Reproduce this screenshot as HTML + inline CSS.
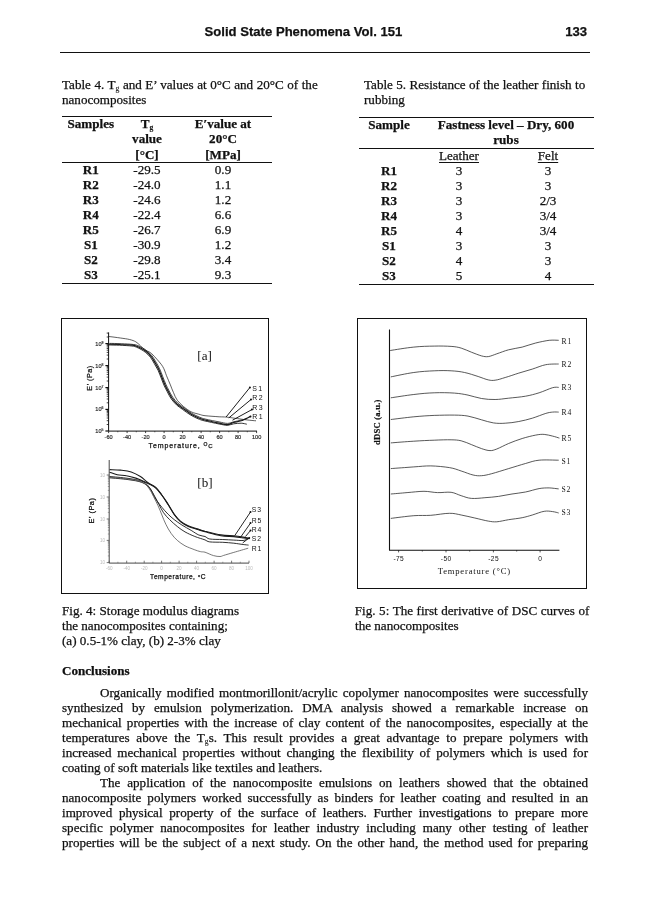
<!DOCTYPE html>
<html><head><meta charset="utf-8">
<style>
html,body{margin:0;padding:0;background:#fff;}
body{width:650px;height:920px;position:relative;overflow:hidden;filter:grayscale(1);-webkit-text-stroke:0.25px #111;font-family:"Liberation Serif",serif;font-size:13.1px;color:#111;}
.l{position:absolute;white-space:nowrap;line-height:15px;height:15px;}
.j{position:absolute;left:62px;width:526px;line-height:15px;height:15px;text-align:justify;text-align-last:justify;white-space:normal;}
.c{position:absolute;white-space:nowrap;line-height:15px;height:15px;text-align:center;}
.b{font-weight:bold;}
.hr{position:absolute;background:#111;height:1px;}
.hd{font-family:"Liberation Sans",sans-serif;font-weight:bold;font-size:13.1px;}
sub{font-size:7.6px;vertical-align:baseline;position:relative;top:2.2px;line-height:0;-webkit-text-stroke:0.1px #111;}
.box{position:absolute;border:1px solid #111;box-sizing:border-box;}
u{text-decoration-thickness:1px;text-underline-offset:1.5px;}
</style></head><body>
<!-- header -->
<div class="l hd" style="left:204.6px;top:24px;">Solid State Phenomena Vol. 151</div>
<div class="l hd" style="right:63px;top:24px;">133</div>
<div class="hr" style="left:60px;top:52px;width:530px;"></div>

<!-- Table 4 caption -->
<div class="l" style="left:62px;top:77px;word-spacing:0.26px;">Table 4. T<sub>g</sub> and E’ values at 0°C and 20°C of the</div>
<div class="l" style="left:62px;top:92px;">nanocomposites</div>
<!-- Table 5 caption -->
<div class="l" style="left:364px;top:77px;word-spacing:0.15px;">Table 5. Resistance of the leather finish to</div>
<div class="l" style="left:364px;top:92px;">rubbing</div>

<!-- Table 4 -->
<div class="hr" style="left:62px;top:116px;width:210px;"></div>
<div class="c b" style="left:62px;width:57.6px;top:116.1px;">Samples</div>
<div class="c b" style="left:119px;width:56px;top:116.1px;">T<sub>g</sub></div>
<div class="c b" style="left:119px;width:56px;top:131.2px;">value</div>
<div class="c b" style="left:119px;width:56px;top:146.5px;">[°C]</div>
<div class="c b" style="left:175px;width:96px;top:116.1px;">E′value at</div>
<div class="c b" style="left:175px;width:96px;top:131.2px;">20°C</div>
<div class="c b" style="left:175px;width:96px;top:146.5px;">[MPa]</div>
<div class="hr" style="left:62px;top:162px;width:210px;"></div>
<div class="c b" style="left:62px;width:57.6px;top:162.1px;">R1</div><div class="c" style="left:119px;width:56px;top:162.1px;">-29.5</div><div class="c" style="left:175px;width:96px;top:162.1px;">0.9</div>
<div class="c b" style="left:62px;width:57.6px;top:177.1px;">R2</div><div class="c" style="left:119px;width:56px;top:177.1px;">-24.0</div><div class="c" style="left:175px;width:96px;top:177.1px;">1.1</div>
<div class="c b" style="left:62px;width:57.6px;top:192.1px;">R3</div><div class="c" style="left:119px;width:56px;top:192.1px;">-24.6</div><div class="c" style="left:175px;width:96px;top:192.1px;">1.2</div>
<div class="c b" style="left:62px;width:57.6px;top:207.1px;">R4</div><div class="c" style="left:119px;width:56px;top:207.1px;">-22.4</div><div class="c" style="left:175px;width:96px;top:207.1px;">6.6</div>
<div class="c b" style="left:62px;width:57.6px;top:222.1px;">R5</div><div class="c" style="left:119px;width:56px;top:222.1px;">-26.7</div><div class="c" style="left:175px;width:96px;top:222.1px;">6.9</div>
<div class="c b" style="left:62px;width:57.6px;top:237.1px;">S1</div><div class="c" style="left:119px;width:56px;top:237.1px;">-30.9</div><div class="c" style="left:175px;width:96px;top:237.1px;">1.2</div>
<div class="c b" style="left:62px;width:57.6px;top:252.1px;">S2</div><div class="c" style="left:119px;width:56px;top:252.1px;">-29.8</div><div class="c" style="left:175px;width:96px;top:252.1px;">3.4</div>
<div class="c b" style="left:62px;width:57.6px;top:267.1px;">S3</div><div class="c" style="left:119px;width:56px;top:267.1px;">-25.1</div><div class="c" style="left:175px;width:96px;top:267.1px;">9.3</div>
<div class="hr" style="left:62px;top:283px;width:210px;"></div>

<!-- Table 5 -->
<div class="hr" style="left:359px;top:117px;width:235px;"></div>
<div class="c b" style="left:359px;width:60px;top:116.6px;">Sample</div>
<div class="c b" style="left:418px;width:176px;top:116.6px;">Fastness level – Dry, 600</div>
<div class="c b" style="left:418px;width:176px;top:131.6px;">rubs</div>
<div class="hr" style="left:359px;top:148px;width:235px;"></div>
<div class="c" style="left:418px;width:82px;top:148.1px;"><u>Leather</u></div>
<div class="c" style="left:500px;width:96px;top:148.1px;"><u>Felt</u></div>
<div class="c b" style="left:359px;width:60px;top:163.1px;">R1</div><div class="c" style="left:418px;width:82px;top:163.1px;">3</div><div class="c" style="left:500px;width:96px;top:163.1px;">3</div>
<div class="c b" style="left:359px;width:60px;top:178.1px;">R2</div><div class="c" style="left:418px;width:82px;top:178.1px;">3</div><div class="c" style="left:500px;width:96px;top:178.1px;">3</div>
<div class="c b" style="left:359px;width:60px;top:193.1px;">R3</div><div class="c" style="left:418px;width:82px;top:193.1px;">3</div><div class="c" style="left:500px;width:96px;top:193.1px;">2/3</div>
<div class="c b" style="left:359px;width:60px;top:208.1px;">R4</div><div class="c" style="left:418px;width:82px;top:208.1px;">3</div><div class="c" style="left:500px;width:96px;top:208.1px;">3/4</div>
<div class="c b" style="left:359px;width:60px;top:223.1px;">R5</div><div class="c" style="left:418px;width:82px;top:223.1px;">4</div><div class="c" style="left:500px;width:96px;top:223.1px;">3/4</div>
<div class="c b" style="left:359px;width:60px;top:238.1px;">S1</div><div class="c" style="left:418px;width:82px;top:238.1px;">3</div><div class="c" style="left:500px;width:96px;top:238.1px;">3</div>
<div class="c b" style="left:359px;width:60px;top:253.1px;">S2</div><div class="c" style="left:418px;width:82px;top:253.1px;">4</div><div class="c" style="left:500px;width:96px;top:253.1px;">3</div>
<div class="c b" style="left:359px;width:60px;top:268.1px;">S3</div><div class="c" style="left:418px;width:82px;top:268.1px;">5</div><div class="c" style="left:500px;width:96px;top:268.1px;">4</div>
<div class="hr" style="left:359px;top:284px;width:235px;"></div>

<!-- Figures -->
<div class="box" style="left:61px;top:318px;width:208px;height:276px;"></div>
<div class="box" style="left:357px;top:318px;width:230px;height:271px;"></div>

<!--FIGSVG-->
<svg width="650" height="920" viewBox="0 0 650 920" style="position:absolute;left:0;top:0;" fill="none" stroke="#111" stroke-linecap="butt" stroke-linejoin="round">
<g stroke="#111" stroke-width="0.9">
<path d="M389.5,329.4 V550.2 H559.4" stroke-width="1.1"/>
<path d="M398.6,550.2 v2.2" stroke-width="0.7"/>
<path d="M446,550.2 v2.2" stroke-width="0.7"/>
<path d="M493.4,550.2 v2.2" stroke-width="0.7"/>
<path d="M540.1,550.2 v2.2" stroke-width="0.7"/>
<path d="M422.3,550.2 v1.4" stroke-width="0.6"/>
<path d="M469.7,550.2 v1.4" stroke-width="0.6"/>
<path d="M516.7,550.2 v1.4" stroke-width="0.6"/>
</g>
<g stroke="#222" stroke-width="0.75">
<path d="M390.2,350.5 C394.1,349.9 406.5,347.8 413.8,347.1 C421.2,346.3 427.9,346.2 434.2,346.1 C440.4,345.9 446.6,346.1 451.1,346.4 C455.6,346.7 457.8,347.1 461.2,348.1 C464.6,349.1 468.0,350.9 471.4,352.2 C474.8,353.5 478.7,355.1 481.5,355.9 C484.4,356.6 485.8,356.9 488.3,356.6 C490.8,356.2 493.4,355.0 496.8,353.8 C500.2,352.7 504.4,350.9 508.6,349.8 C512.8,348.7 517.6,348.2 522.2,347.1 C526.7,345.9 531.2,344.1 535.7,343.0 C540.2,341.9 545.4,340.8 549.2,340.3 C553.1,339.9 557.1,340.3 558.7,340.3"/>
<path d="M390.8,376.9 C394.7,376.1 406.6,373.5 413.8,372.5 C421.1,371.4 427.9,371.1 434.2,370.8 C440.4,370.5 446.0,370.5 451.1,370.8 C456.2,371.1 460.1,371.5 464.6,372.5 C469.1,373.4 474.2,375.3 478.2,376.5 C482.1,377.8 485.5,379.3 488.3,379.9 C491.1,380.5 492.3,380.6 495.1,380.2 C497.9,379.9 501.3,378.7 505.2,377.5 C509.2,376.4 514.3,374.5 518.8,373.1 C523.3,371.7 527.8,370.5 532.3,369.1 C536.8,367.7 541.4,365.5 545.8,364.7 C550.2,363.8 556.6,364.1 558.7,364.0"/>
<path d="M390.8,397.8 C394.7,397.3 406.6,395.3 413.8,394.5 C421.1,393.6 427.4,393.0 434.2,392.8 C440.9,392.5 448.8,392.7 454.5,393.1 C460.1,393.5 463.5,394.2 468.0,395.1 C472.5,396.0 477.0,397.8 481.5,398.5 C486.1,399.3 490.6,399.6 495.1,399.5 C499.6,399.5 503.5,398.7 508.6,398.2 C513.7,397.6 520.5,397.1 525.5,396.2 C530.6,395.3 534.6,394.2 539.1,392.8 C543.6,391.4 549.3,388.6 552.6,387.7 C555.9,386.8 557.7,387.4 558.7,387.4"/>
<path d="M390.8,419.5 C394.7,419.1 406.6,417.5 413.8,416.8 C421.1,416.1 427.4,415.7 434.2,415.4 C440.9,415.2 448.8,415.0 454.5,415.1 C460.1,415.2 463.5,415.3 468.0,416.1 C472.5,416.9 477.3,418.7 481.5,419.8 C485.8,421.0 489.4,422.3 493.4,422.9 C497.3,423.5 501.0,423.5 505.2,423.2 C509.5,423.0 514.3,422.4 518.8,421.5 C523.3,420.7 527.8,419.5 532.3,418.2 C536.8,416.8 542.5,414.4 545.8,413.4 C549.2,412.4 550.5,412.3 552.6,412.1 C554.8,411.8 557.7,412.1 558.7,412.1"/>
<path d="M390.8,442.9 C394.7,442.6 406.6,441.6 413.8,441.2 C421.1,440.7 427.9,440.4 434.2,440.2 C440.4,439.9 446.6,439.7 451.1,439.8 C455.6,439.9 457.8,440.0 461.2,440.8 C464.6,441.6 468.0,443.3 471.4,444.6 C474.8,445.9 478.4,447.6 481.5,448.6 C484.6,449.6 487.5,450.6 490.0,450.6 C492.5,450.7 493.7,450.1 496.8,449.0 C499.9,447.8 504.4,445.3 508.6,443.5 C512.8,441.8 517.6,439.9 522.2,438.5 C526.7,437.1 532.0,435.8 535.7,435.1 C539.4,434.4 541.3,434.2 544.2,434.4 C547.0,434.6 550.1,435.5 552.6,436.1 C555.2,436.7 558.3,437.8 559.4,438.1"/>
<path d="M390.8,468.6 C394.7,468.3 407.2,467.4 413.8,466.9 C420.5,466.5 424.8,465.8 430.8,465.9 C436.7,466.0 444.3,466.8 449.4,467.6 C454.5,468.4 457.3,469.7 461.2,471.0 C465.2,472.2 469.7,474.3 473.1,475.0 C476.5,475.8 478.4,475.9 481.5,475.7 C484.6,475.5 487.2,474.9 491.7,473.7 C496.2,472.5 503.0,470.3 508.6,468.6 C514.3,466.9 520.5,464.9 525.5,463.5 C530.6,462.1 533.6,460.7 539.1,460.2 C544.6,459.6 555.4,460.2 558.7,460.2"/>
<path d="M390.8,494.0 C393.5,493.8 401.5,493.1 407.1,492.6 C412.6,492.2 418.9,491.3 424.0,491.3 C429.1,491.3 433.0,492.5 437.5,492.6 C442.1,492.8 447.1,491.8 451.1,492.3 C455.0,492.8 457.8,494.7 461.2,495.7 C464.6,496.7 467.4,498.1 471.4,498.4 C475.3,498.7 480.4,498.1 484.9,497.7 C489.4,497.4 494.0,497.0 498.5,496.4 C503.0,495.7 507.5,494.7 512.0,494.0 C516.5,493.3 521.0,492.9 525.5,492.0 C530.1,491.1 535.1,489.3 539.1,488.6 C543.0,487.9 546.0,487.9 549.2,487.9 C552.5,488.0 557.1,488.8 558.7,488.9"/>
<path d="M390.8,518.4 C394.7,517.9 407.2,516.2 413.8,515.7 C420.5,515.2 424.8,515.7 430.8,515.3 C436.7,514.9 444.3,513.3 449.4,513.3 C454.5,513.2 457.0,514.2 461.2,515.0 C465.5,515.8 470.3,517.0 474.8,518.0 C479.3,519.0 484.6,520.5 488.3,521.1 C492.0,521.7 493.4,522.0 496.8,521.8 C500.2,521.5 504.4,520.4 508.6,519.7 C512.8,519.0 518.2,518.5 522.2,517.7 C526.1,516.9 528.6,516.1 532.3,515.0 C536.0,513.9 540.8,511.8 544.2,511.3 C547.5,510.7 550.2,511.3 552.6,511.6 C555.0,511.9 557.7,512.7 558.7,513.0"/>
</g>
<g stroke="none" fill="#111" font-family="Liberation Serif, serif" font-size="7.6px" letter-spacing="0.9">
<text x="561.5" y="343.9">R1</text>
<text x="561.5" y="366.9">R2</text>
<text x="561.5" y="390.3">R3</text>
<text x="561.5" y="415.0">R4</text>
<text x="561.5" y="441.0">R5</text>
<text x="561.5" y="463.7">S1</text>
<text x="561.5" y="491.8">S2</text>
<text x="561.5" y="515.2">S3</text>
</g>
<g stroke="none" fill="#111" font-family="Liberation Sans, sans-serif" font-size="6.6px" text-anchor="middle" letter-spacing="0.4">
<text x="398.8" y="560.9">-75</text>
<text x="446.2" y="560.9">-50</text>
<text x="493.6" y="560.9">-25</text>
<text x="540.3" y="560.9">0</text>
</g>
<text x="474.3" y="573.6" stroke="none" fill="#111" font-family="Liberation Serif, serif" font-size="8.6px" text-anchor="middle" letter-spacing="0.8">Temperature (°C)</text>
<text transform="translate(380.1,422.2) rotate(-90)" stroke="#111" stroke-width="0.2" fill="#111" font-family="Liberation Serif, serif" font-weight="bold" font-size="8.6px" text-anchor="middle" letter-spacing="0.22">dDSC (a.u.)</text>
<g stroke="#111" stroke-width="0.9">
<path d="M108.6,332.4 V431.1 H257" stroke-width="1"/>
<path d="M108.6,343.6 h-3.2" stroke-width="1.2"/>
<path d="M108.6,365.6 h-3.2" stroke-width="1.2"/>
<path d="M108.6,387.6 h-3.2" stroke-width="1.2"/>
<path d="M108.6,409.4 h-3.2" stroke-width="1.2"/>
<path d="M108.6,431 h-3.2" stroke-width="1.2"/>
<path d="M108.6,359.0 h-1.9" stroke-width="0.8"/>
<path d="M108.6,355.1 h-1.9" stroke-width="0.8"/>
<path d="M108.6,352.4 h-1.9" stroke-width="0.8"/>
<path d="M108.6,350.2 h-1.9" stroke-width="0.8"/>
<path d="M108.6,348.5 h-1.9" stroke-width="0.8"/>
<path d="M108.6,347.0 h-1.9" stroke-width="0.8"/>
<path d="M108.6,345.7 h-1.9" stroke-width="0.8"/>
<path d="M108.6,344.6 h-1.9" stroke-width="0.8"/>
<path d="M108.6,381.0 h-1.9" stroke-width="0.8"/>
<path d="M108.6,377.1 h-1.9" stroke-width="0.8"/>
<path d="M108.6,374.4 h-1.9" stroke-width="0.8"/>
<path d="M108.6,372.2 h-1.9" stroke-width="0.8"/>
<path d="M108.6,370.5 h-1.9" stroke-width="0.8"/>
<path d="M108.6,369.0 h-1.9" stroke-width="0.8"/>
<path d="M108.6,367.7 h-1.9" stroke-width="0.8"/>
<path d="M108.6,366.6 h-1.9" stroke-width="0.8"/>
<path d="M108.6,402.8 h-1.9" stroke-width="0.8"/>
<path d="M108.6,399.0 h-1.9" stroke-width="0.8"/>
<path d="M108.6,396.3 h-1.9" stroke-width="0.8"/>
<path d="M108.6,394.2 h-1.9" stroke-width="0.8"/>
<path d="M108.6,392.4 h-1.9" stroke-width="0.8"/>
<path d="M108.6,391.0 h-1.9" stroke-width="0.8"/>
<path d="M108.6,389.7 h-1.9" stroke-width="0.8"/>
<path d="M108.6,388.6 h-1.9" stroke-width="0.8"/>
<path d="M108.6,424.5 h-1.9" stroke-width="0.8"/>
<path d="M108.6,420.7 h-1.9" stroke-width="0.8"/>
<path d="M108.6,418.0 h-1.9" stroke-width="0.8"/>
<path d="M108.6,415.9 h-1.9" stroke-width="0.8"/>
<path d="M108.6,414.2 h-1.9" stroke-width="0.8"/>
<path d="M108.6,412.7 h-1.9" stroke-width="0.8"/>
<path d="M108.6,411.5 h-1.9" stroke-width="0.8"/>
<path d="M108.6,410.4 h-1.9" stroke-width="0.8"/>
<path d="M108.6,337.0 h-1.9" stroke-width="0.8"/>
<path d="M108.6,333.1 h-1.9" stroke-width="0.8"/>
<path d="M108.6,431.1 v2.0" stroke-width="0.8"/>
<path d="M127.1,431.1 v2.0" stroke-width="0.8"/>
<path d="M145.6,431.1 v2.0" stroke-width="0.8"/>
<path d="M164.1,431.1 v2.0" stroke-width="0.8"/>
<path d="M182.6,431.1 v2.0" stroke-width="0.8"/>
<path d="M201.1,431.1 v2.0" stroke-width="0.8"/>
<path d="M219.6,431.1 v2.0" stroke-width="0.8"/>
<path d="M238.1,431.1 v2.0" stroke-width="0.8"/>
<path d="M256.6,431.1 v2.0" stroke-width="0.8"/>
<path d="M117.8,431.1 v1.2" stroke-width="0.6"/>
<path d="M136.3,431.1 v1.2" stroke-width="0.6"/>
<path d="M154.8,431.1 v1.2" stroke-width="0.6"/>
<path d="M173.3,431.1 v1.2" stroke-width="0.6"/>
<path d="M191.8,431.1 v1.2" stroke-width="0.6"/>
<path d="M210.3,431.1 v1.2" stroke-width="0.6"/>
<path d="M228.8,431.1 v1.2" stroke-width="0.6"/>
<path d="M247.3,431.1 v1.2" stroke-width="0.6"/>
</g>
<g stroke="#1a1a1a">
<path d="M108.8,336.5 C110.8,336.7 116.9,337.5 120.4,338.0 C123.8,338.5 127.1,338.9 129.6,339.5 C132.2,340.2 134.0,340.8 135.8,341.8 C137.6,342.9 138.8,344.3 140.4,345.7 C141.9,347.1 143.3,349.2 145.0,350.3 C146.7,351.5 148.6,351.3 150.4,352.6 C152.2,353.9 153.7,355.7 155.8,358.0 C157.8,360.3 160.9,363.5 162.7,366.5 C164.5,369.4 165.3,372.6 166.5,375.7 C167.8,378.8 169.2,382.1 170.4,384.9 C171.5,387.7 172.3,390.1 173.5,392.6 C174.6,395.2 175.6,398.0 177.3,400.3 C179.0,402.6 181.2,404.5 183.5,406.5 C185.8,408.4 188.6,410.6 191.2,411.8 C193.7,413.1 196.5,413.5 198.8,414.2 C201.2,414.8 201.6,415.3 205.0,415.7 C208.4,416.1 215.5,416.5 219.1,416.8 C222.7,417.0 223.4,416.8 226.5,417.1 C229.5,417.4 234.2,418.2 237.5,418.6 C240.9,419.1 243.7,419.5 246.8,419.9 C249.8,420.3 254.5,420.7 256.0,420.8" stroke-width="0.7"/>
<path d="M108.8,344.2 C110.8,344.2 116.4,344.3 120.4,344.5 C124.4,344.6 129.9,344.9 132.7,345.2 C135.5,345.6 135.8,345.9 137.3,346.5 C138.8,347.1 140.4,347.9 141.9,348.8 C143.5,349.7 145.0,350.6 146.5,351.8 C148.1,353.1 149.7,354.7 151.2,356.5 C152.6,358.3 153.7,360.4 155.0,362.6 C156.3,364.8 157.7,367.1 158.8,369.5 C160.0,372.0 160.9,374.7 161.9,377.2 C162.9,379.8 164.0,382.6 165.0,384.9 C166.0,387.2 166.9,388.9 168.1,391.1 C169.2,393.3 170.4,395.8 171.9,398.0 C173.5,400.2 175.4,402.4 177.3,404.2 C179.2,405.9 181.2,407.1 183.5,408.8 C185.8,410.4 188.6,412.6 191.2,414.2 C193.7,415.7 196.5,417.0 198.8,418.0 C201.2,419.0 201.6,419.1 205.0,420.0 C208.4,420.9 215.3,422.4 219.1,423.2 C222.8,424.0 224.9,424.9 227.4,424.7 C229.8,424.6 231.5,423.0 233.8,422.3 C236.2,421.7 238.5,421.8 241.2,420.8 C244.0,419.8 248.9,417.1 250.5,416.4" stroke-width="1.2"/>
<path d="M108.1,344.9 C110.0,345.0 115.6,345.1 119.6,345.2 C123.6,345.4 129.1,345.7 131.9,346.0 C134.7,346.3 135.0,346.6 136.5,347.2 C138.1,347.8 139.6,348.6 141.2,349.5 C142.7,350.4 144.2,351.3 145.8,352.6 C147.3,353.9 149.0,355.4 150.4,357.2 C151.8,359.0 152.9,361.2 154.2,363.4 C155.5,365.6 156.9,367.9 158.1,370.3 C159.2,372.7 160.1,375.4 161.2,378.0 C162.2,380.6 163.2,383.4 164.2,385.7 C165.3,388.0 166.2,389.7 167.3,391.8 C168.5,394.0 169.6,396.6 171.2,398.8 C172.7,400.9 174.6,403.1 176.5,404.9 C178.5,406.7 180.4,407.9 182.7,409.5 C185.0,411.2 187.8,413.4 190.4,414.9 C192.9,416.5 195.8,417.8 198.1,418.8 C200.4,419.7 200.7,419.9 204.2,420.8 C207.7,421.6 215.2,423.2 219.1,424.0 C222.9,424.7 224.9,425.3 227.4,425.3 C229.8,425.2 231.5,424.1 233.8,423.8 C236.2,423.4 239.1,423.2 241.2,423.2 C243.4,423.3 245.8,424.0 246.8,424.2" stroke-width="0.9"/>
<path d="M109.6,343.4 C111.5,343.4 117.2,343.5 121.2,343.7 C125.1,343.9 130.6,344.1 133.5,344.5 C136.3,344.8 136.5,345.1 138.1,345.7 C139.6,346.3 141.2,347.1 142.7,348.0 C144.2,348.9 145.8,349.8 147.3,351.1 C148.8,352.4 150.5,353.9 151.9,355.7 C153.3,357.5 154.5,359.7 155.8,361.8 C157.1,364.0 158.5,366.3 159.6,368.8 C160.8,371.2 161.7,373.9 162.7,376.5 C163.7,379.0 164.7,381.8 165.8,384.2 C166.8,386.5 167.7,388.1 168.8,390.3 C170.0,392.5 171.2,395.1 172.7,397.2 C174.2,399.4 176.2,401.6 178.1,403.4 C180.0,405.2 181.9,406.3 184.2,408.0 C186.5,409.7 189.4,411.8 191.9,413.4 C194.5,414.9 197.3,416.3 199.6,417.2 C201.9,418.2 202.5,418.4 205.8,419.2 C209.0,420.0 215.5,421.2 219.1,421.9 C222.7,422.6 224.9,423.4 227.4,423.4 C229.8,423.4 231.5,422.3 233.8,421.8 C236.2,421.2 239.1,420.6 241.2,420.1 C243.4,419.6 245.8,418.9 246.8,418.6" stroke-width="0.8"/>
</g>
<g stroke="#111" stroke-width="0.95">
<path d="M249.9,387.5 L226.1,417"/>
<circle cx="249.9" cy="387.5" r="1.0" fill="#111" stroke="none"/>
<path d="M251,399.5 L228.8,417.9"/>
<circle cx="251" cy="399.5" r="1.0" fill="#111" stroke="none"/>
<path d="M251.9,409.6 L232.5,420.2"/>
<circle cx="251.9" cy="409.6" r="1.0" fill="#111" stroke="none"/>
<circle cx="250.5" cy="416.6" r="1.0" fill="#111" stroke="none"/>
</g>
<g stroke="none" fill="#111" font-family="Liberation Sans, sans-serif" font-size="7px" letter-spacing="1.3" stroke="#111" stroke-width="0.2">
<text x="252.3" y="391.2">S1</text>
<text x="252.3" y="400.1">R2</text>
<text x="252.3" y="409.8">R3</text>
<text x="252.3" y="419.0">R1</text>
</g>
<g stroke="#222" stroke-width="0.15" fill="#222" font-family="Liberation Sans, sans-serif" font-size="5.6px" text-anchor="middle">
<text x="108.6" y="439">-60</text>
<text x="127.1" y="439">-40</text>
<text x="145.6" y="439">-20</text>
<text x="164.1" y="439">0</text>
<text x="182.6" y="439">20</text>
<text x="201.1" y="439">40</text>
<text x="219.6" y="439">60</text>
<text x="238.1" y="439">80</text>
<text x="256.6" y="439">100</text>
</g>
<g stroke="#222" stroke-width="0.15" fill="#222" font-family="Liberation Sans, sans-serif" font-size="5.6px" text-anchor="end">
<text x="103.5" y="345.6">10<tspan font-size="3.5px" dy="-2">9</tspan></text>
<text x="103.5" y="367.6">10<tspan font-size="3.5px" dy="-2">8</tspan></text>
<text x="103.5" y="389.6">10<tspan font-size="3.5px" dy="-2">7</tspan></text>
<text x="103.5" y="411.4">10<tspan font-size="3.5px" dy="-2">6</tspan></text>
<text x="103.5" y="433.0">10<tspan font-size="3.5px" dy="-2">5</tspan></text>
</g>
<text x="181" y="447.8" stroke="#111" stroke-width="0.25" fill="#111" font-family="Liberation Sans, sans-serif" font-size="7px" text-anchor="middle" letter-spacing="0.9">Temperature, <tspan font-size="5px" dy="-2">O</tspan><tspan font-size="6px" dy="2">C</tspan></text>
<text transform="translate(92,378) rotate(-90)" stroke="#111" stroke-width="0.25" fill="#111" font-family="Liberation Sans, sans-serif" font-size="7.2px" text-anchor="middle" letter-spacing="0.5">E' (Pa)</text>
<text x="204.6" y="359.5" stroke="none" fill="#111" font-family="Liberation Serif, serif" font-size="13.1px" text-anchor="middle">[a]</text>
<g stroke="#555" stroke-width="0.8">
<path d="M109.2,460 V563.1 H249" stroke="#333" stroke-width="0.9"/>
<path d="M109.2,475 h-2.5"/>
<path d="M109.2,497 h-2.5"/>
<path d="M109.2,519 h-2.5"/>
<path d="M109.2,540.4 h-2.5"/>
<path d="M109.2,562.6 h-2.5"/>
<path d="M109.2,490.4 h-1.4" stroke-width="0.5"/>
<path d="M109.2,486.5 h-1.4" stroke-width="0.5"/>
<path d="M109.2,483.8 h-1.4" stroke-width="0.5"/>
<path d="M109.2,481.6 h-1.4" stroke-width="0.5"/>
<path d="M109.2,479.9 h-1.4" stroke-width="0.5"/>
<path d="M109.2,478.4 h-1.4" stroke-width="0.5"/>
<path d="M109.2,477.1 h-1.4" stroke-width="0.5"/>
<path d="M109.2,476.0 h-1.4" stroke-width="0.5"/>
<path d="M109.2,512.4 h-1.4" stroke-width="0.5"/>
<path d="M109.2,508.5 h-1.4" stroke-width="0.5"/>
<path d="M109.2,505.8 h-1.4" stroke-width="0.5"/>
<path d="M109.2,503.6 h-1.4" stroke-width="0.5"/>
<path d="M109.2,501.9 h-1.4" stroke-width="0.5"/>
<path d="M109.2,500.4 h-1.4" stroke-width="0.5"/>
<path d="M109.2,499.1 h-1.4" stroke-width="0.5"/>
<path d="M109.2,498.0 h-1.4" stroke-width="0.5"/>
<path d="M109.2,534.0 h-1.4" stroke-width="0.5"/>
<path d="M109.2,530.2 h-1.4" stroke-width="0.5"/>
<path d="M109.2,527.5 h-1.4" stroke-width="0.5"/>
<path d="M109.2,525.4 h-1.4" stroke-width="0.5"/>
<path d="M109.2,523.7 h-1.4" stroke-width="0.5"/>
<path d="M109.2,522.3 h-1.4" stroke-width="0.5"/>
<path d="M109.2,521.1 h-1.4" stroke-width="0.5"/>
<path d="M109.2,520.0 h-1.4" stroke-width="0.5"/>
<path d="M109.2,555.9 h-1.4" stroke-width="0.5"/>
<path d="M109.2,552.0 h-1.4" stroke-width="0.5"/>
<path d="M109.2,549.2 h-1.4" stroke-width="0.5"/>
<path d="M109.2,547.1 h-1.4" stroke-width="0.5"/>
<path d="M109.2,545.3 h-1.4" stroke-width="0.5"/>
<path d="M109.2,543.8 h-1.4" stroke-width="0.5"/>
<path d="M109.2,542.6 h-1.4" stroke-width="0.5"/>
<path d="M109.2,541.4 h-1.4" stroke-width="0.5"/>
<path d="M109.2,563.1 v-2.4"/>
<path d="M126.7,563.1 v-2.4"/>
<path d="M144.2,563.1 v-2.4"/>
<path d="M161.6,563.1 v-2.4"/>
<path d="M179.1,563.1 v-2.4"/>
<path d="M196.6,563.1 v-2.4"/>
<path d="M214.1,563.1 v-2.4"/>
<path d="M231.6,563.1 v-2.4"/>
<path d="M249.0,563.1 v-2.4"/>
<path d="M117.9,563.1 v-1.4" stroke-width="0.5"/>
<path d="M135.4,563.1 v-1.4" stroke-width="0.5"/>
<path d="M152.9,563.1 v-1.4" stroke-width="0.5"/>
<path d="M170.3,563.1 v-1.4" stroke-width="0.5"/>
<path d="M187.8,563.1 v-1.4" stroke-width="0.5"/>
<path d="M205.3,563.1 v-1.4" stroke-width="0.5"/>
<path d="M222.8,563.1 v-1.4" stroke-width="0.5"/>
<path d="M240.3,563.1 v-1.4" stroke-width="0.5"/>
</g>
<g stroke="#1a1a1a">
<path d="M109.6,469.6 C111.4,469.7 116.8,469.7 120.4,470.1 C124.0,470.5 127.8,470.8 131.2,471.9 C134.5,473.0 137.6,474.7 140.4,476.5 C143.2,478.3 145.5,480.9 148.1,482.7 C150.6,484.5 153.5,485.3 155.8,487.3 C158.1,489.4 159.9,492.2 161.9,495.0 C164.0,497.8 166.0,501.0 168.1,504.2 C170.1,507.4 172.2,511.4 174.2,514.2 C176.3,517.1 178.1,519.2 180.4,521.2 C182.7,523.1 185.3,524.5 188.1,525.8 C190.9,527.1 194.5,527.9 197.3,528.8 C200.1,529.7 201.1,530.1 205.0,531.2 C208.9,532.2 216.1,534.1 220.9,534.9 C225.7,535.7 230.2,535.5 233.8,535.8 C237.5,536.2 240.6,536.7 243.1,537.1 C245.5,537.5 247.7,538.1 248.6,538.2" stroke-width="1.1"/>
<path d="M109.6,472.2 C110.9,472.6 114.5,474.1 117.3,474.7 C120.1,475.3 123.5,475.2 126.5,475.8 C129.6,476.3 132.9,477.2 135.8,478.1 C138.6,479.0 141.2,480.1 143.5,481.2 C145.8,482.2 147.6,483.1 149.6,484.2 C151.7,485.4 153.7,486.2 155.8,488.1 C157.9,490.0 160.1,492.9 162.2,495.8 C164.3,498.6 166.3,501.8 168.4,505.0 C170.4,508.2 172.5,512.1 174.5,514.8 C176.6,517.6 178.4,519.8 180.7,521.8 C183.0,523.7 185.6,525.1 188.4,526.4 C191.2,527.7 194.8,528.6 197.6,529.5 C200.4,530.4 201.1,530.7 205.0,531.8 C208.9,532.8 216.1,534.9 220.9,535.7 C225.7,536.5 230.2,536.2 233.8,536.6 C237.5,537.0 240.5,537.5 243.1,537.9 C245.7,538.2 248.5,538.5 249.5,538.6" stroke-width="1.1"/>
<path d="M109.6,476.5 C112.7,476.8 122.7,477.6 128.1,478.4 C133.5,479.2 138.6,479.9 141.9,481.2 C145.3,482.4 146.3,483.8 148.1,485.8 C149.9,487.7 151.2,490.1 152.7,492.7 C154.2,495.3 155.8,498.7 157.3,501.2 C158.8,503.6 160.1,505.1 161.9,507.3 C163.7,509.5 166.0,512.2 168.1,514.2 C170.1,516.3 171.9,517.8 174.2,519.6 C176.5,521.4 179.1,523.2 181.9,525.0 C184.7,526.8 188.3,528.7 191.2,530.4 C194.0,532.1 196.5,534.0 198.8,535.0 C201.2,536.0 203.2,535.9 205.0,536.5 C206.8,537.2 206.9,538.5 209.8,539.0 C212.8,539.5 218.8,539.4 222.8,539.5 C226.8,539.7 230.5,539.9 233.8,540.1 C237.2,540.2 240.6,540.7 243.1,540.5 C245.5,540.2 247.7,538.9 248.6,538.6" stroke-width="0.9"/>
<path d="M109.6,477.8 C112.7,478.1 122.7,478.8 128.1,479.6 C133.5,480.4 138.3,481.0 141.9,482.4 C145.5,483.8 147.6,485.7 149.6,488.1 C151.7,490.4 152.7,493.8 154.2,496.5 C155.8,499.2 157.3,501.5 158.8,504.2 C160.4,506.9 161.7,510.1 163.5,512.7 C165.3,515.3 167.3,517.3 169.6,519.6 C171.9,521.9 174.7,524.5 177.3,526.5 C179.9,528.6 182.2,530.3 185.0,531.9 C187.8,533.5 191.7,535.2 194.2,536.2 C196.8,537.3 198.6,537.8 200.4,538.4 C202.2,539.0 203.4,539.3 205.0,539.9 C206.6,540.5 206.9,541.5 209.8,541.9 C212.8,542.3 218.8,542.1 222.8,542.3 C226.8,542.5 230.5,542.9 233.8,543.2 C237.2,543.6 240.6,544.2 243.1,544.5 C245.5,544.8 247.7,545.0 248.6,545.1" stroke-width="0.9"/>
<path d="M109.6,477.3 C112.7,477.6 122.7,478.4 128.1,479.2 C133.5,479.9 138.5,480.6 141.9,482.1 C145.4,483.6 146.9,485.7 148.8,488.1 C150.8,490.5 151.9,493.6 153.5,496.5 C155.0,499.5 156.7,502.7 158.1,505.8 C159.5,508.8 160.6,511.9 161.9,515.0 C163.2,518.1 164.2,521.2 165.8,524.2 C167.3,527.3 169.2,530.8 171.2,533.5 C173.1,536.2 175.0,538.3 177.3,540.4 C179.6,542.4 182.2,544.2 185.0,545.8 C187.8,547.3 191.7,548.6 194.2,549.6 C196.8,550.6 198.6,551.2 200.4,551.6 C202.2,552.1 202.8,551.6 205.0,552.2 C207.2,552.9 211.0,554.9 213.5,555.6 C216.0,556.3 218.3,556.6 220.0,556.5 C221.7,556.5 221.4,556.1 223.7,555.4 C226.0,554.7 229.8,553.6 233.8,552.4 C237.9,551.2 245.8,548.9 248.2,548.2" stroke-width="0.8" stroke="#555"/>
</g>
<g stroke="#111" stroke-width="0.9">
<path d="M250.5,512 L234.8,535.5"/>
<circle cx="250.5" cy="512" r="1.0" fill="#111" stroke="none"/>
<path d="M250.5,523.1 L240.8,536.9"/>
<circle cx="250.5" cy="523.1" r="1.0" fill="#111" stroke="none"/>
<path d="M250.5,530.5 L245.5,536.5"/>
<circle cx="250.5" cy="530.5" r="1.0" fill="#111" stroke="none"/>
<path d="M249.2,537.9 L242.7,542.9"/>
<circle cx="249.2" cy="537.9" r="1.0" fill="#111" stroke="none"/>
</g>
<g stroke="none" fill="#111" font-family="Liberation Sans, sans-serif" font-size="6.8px" letter-spacing="0.8" stroke="#111" stroke-width="0.15">
<text x="251.8" y="512.4">S3</text>
<text x="251.8" y="523.0">R5</text>
<text x="251.8" y="531.9">R4</text>
<text x="251.8" y="540.8">S2</text>
<text x="251.8" y="550.6">R1</text>
</g>
<g stroke="none" fill="#bbb" font-family="Liberation Sans, sans-serif" font-size="4.6px" text-anchor="middle">
<text x="109.2" y="570">-60</text>
<text x="126.7" y="570">-40</text>
<text x="144.2" y="570">-20</text>
<text x="161.6" y="570">0</text>
<text x="179.1" y="570">20</text>
<text x="196.6" y="570">40</text>
<text x="214.1" y="570">60</text>
<text x="231.6" y="570">80</text>
<text x="249.0" y="570">100</text>
</g>
<g stroke="none" fill="#bbb" font-family="Liberation Sans, sans-serif" font-size="4.6px" text-anchor="end">
<text x="105" y="476.6">10</text>
<text x="105" y="498.6">10</text>
<text x="105" y="520.6">10</text>
<text x="105" y="542.0">10</text>
<text x="105" y="564.2">10</text>
</g>
<text x="178" y="579.3" stroke="#111" stroke-width="0.25" fill="#111" font-family="Liberation Sans, sans-serif" font-size="6.6px" text-anchor="middle" letter-spacing="0.55">Temperature, <tspan font-size="4px" dy="-2">o</tspan><tspan dy="2">C</tspan></text>
<text transform="translate(93.6,510.5) rotate(-90)" stroke="#111" stroke-width="0.25" fill="#111" font-family="Liberation Sans, sans-serif" font-size="7.4px" text-anchor="middle" letter-spacing="0.5">E' (Pa)</text>
<text x="205" y="487.3" stroke="none" fill="#111" font-family="Liberation Serif, serif" font-size="13.1px" text-anchor="middle">[b]</text>
</svg>
<!--/FIGSVG-->
<!-- Fig captions -->
<div class="l" style="left:62px;top:603px;">Fig. 4: Storage modulus diagrams</div>
<div class="l" style="left:62px;top:618px;">the nanocomposites containing;</div>
<div class="l" style="left:62px;top:633px;">(a) 0.5-1% clay, (b) 2-3% clay</div>
<div class="j" style="left:354.8px;width:234.6px;top:603px;">Fig. 5: The first derivative of DSC curves of</div>
<div class="l" style="left:355px;top:618px;">the nanocomposites</div>

<!-- Body -->
<div class="l b" style="left:62px;top:663px;">Conclusions</div>
<div class="j" style="left:100px;width:488px;top:685px;">Organically modified montmorillonit/acrylic copolymer nanocomposites were successfully</div>
<div class="j" style="top:700px;">synthesized by emulsion polymerization. DMA analysis showed a remarkable increase on</div>
<div class="j" style="top:715px;">mechanical properties with the increase of clay content of the nanocomposites, especially at the</div>
<div class="j" style="top:730px;">temperatures above the T<sub>g</sub>s. This result provides a great advantage to prepare polymers with</div>
<div class="j" style="top:745px;">increased mechanical properties without changing the flexibility of polymers which is used for</div>
<div class="l" style="left:62px;top:760px;">coating of soft materials like textiles and leathers.</div>
<div class="j" style="left:100px;width:488px;top:775px;">The application of the nanocomposite emulsions on leathers showed that the obtained</div>
<div class="j" style="top:790px;">nanocomposite polymers worked successfully as binders for leather coating and resulted in an</div>
<div class="j" style="top:805px;">improved physical property of the surface of leathers. Further investigations to prepare more</div>
<div class="j" style="top:820px;">specific polymer nanocomposites for leather industry including many other testing of leather</div>
<div class="j" style="top:835px;">properties will be the subject of a next study. On the other hand, the method used for preparing</div>
</body></html>
